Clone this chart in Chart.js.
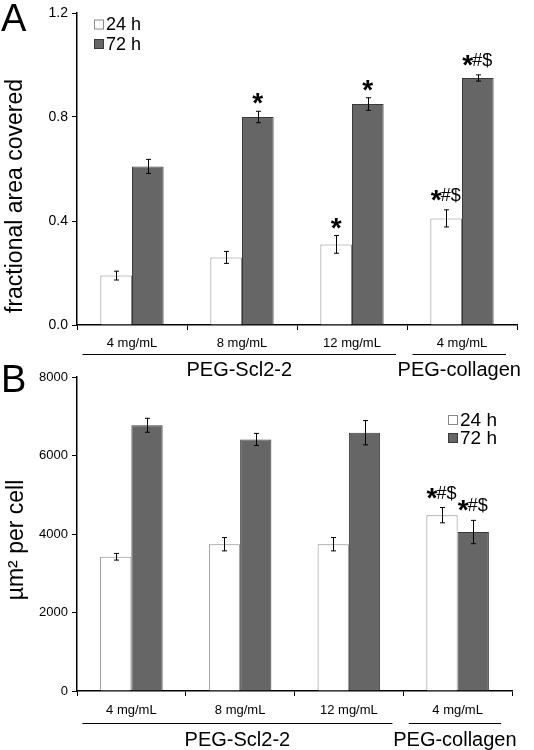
<!DOCTYPE html>
<html>
<head>
<meta charset="utf-8">
<script src="https://cdn.jsdelivr.net/npm/chart.js@4.4.1/dist/chart.umd.min.js"></script>
<style>
    html, body { margin: 0; padding: 0; background: #fff; }
    #wrap { position: relative; width: 534px; height: 750px; }
    #chartA { position: absolute; left: 0; top: 0; }
    #chartB { position: absolute; left: 0; top: 360px; }
</style>
</head>
<body>
<div id="wrap">
    <canvas id="chartA" width="534" height="385"></canvas>
    <canvas id="chartB" width="534" height="390"></canvas>
</div>
<script>
// categories (x axis) and the two groups under them
const categories = ['4 mg/mL', '8 mg/mL', '12 mg/mL', '4 mg/mL'];
const groupNames = ['PEG-Scl2-2', 'PEG-collagen'];
const groupStart = [0, 3];
const groupEnd = [2, 3];
const seriesLabels = ['24 h', '72 h'];

// panel A - fractional area covered
const areaTicks = [0, 0.4, 0.8, 1.2];
const area24 = [0.19, 0.26, 0.31, 0.41];
const area24Err = [0.017, 0.023, 0.034, 0.033];
const area72 = [0.61, 0.80, 0.85, 0.95];
const area72Err = [0.027, 0.022, 0.024, 0.012];
const area24Marks = ['', '', '*', '*#$'];
const area72Marks = ['', '*', '*', '*#$'];

// panel B - um2 per cell
const cellTicks = [0, 2000, 4000, 6000, 8000];
const cell24 = [3420, 3740, 3740, 4480];
const cell24Err = [85, 170, 170, 195];
const cell72 = [6770, 6410, 6580, 4050];
const cell72Err = [178, 153, 310, 297];
const cell24Marks = ['', '', '', '*#$'];
const cell72Marks = ['', '', '', '*#$'];

const FONT = "'Liberation Sans', Arial, sans-serif";
const colors = {
    white: '#ffffff',
    whiteBorder: '#8a8a8a',
    dark: '#666666',
    darkBorder: '#3a3a3a',
    ink: '#000000'
};

// error bars, significance marks, group lines, legend, titles
const decorPlugin = {
    id: 'decor',
    afterDatasetsDraw(chart, args, opts) {
        const ctx = chart.ctx;
        const y = chart.scales.y;
        const x = chart.scales.x;
        ctx.save();
        ctx.strokeStyle = colors.ink;
        ctx.fillStyle = colors.ink;
        ctx.lineWidth = 1;

        chart.data.datasets.forEach((ds, di) => {
            const meta = chart.getDatasetMeta(di);
            meta.data.forEach((bar, i) => {
                const v = ds.data[i];
                const e = ds.errors[i];
                const top = y.getPixelForValue(v + e);
                const bot = y.getPixelForValue(v - e);
                const cx = Math.round(bar.x) + 0.5;
                ctx.beginPath();
                ctx.moveTo(cx, top);
                ctx.lineTo(cx, bot);
                ctx.moveTo(cx - 2.5, top);
                ctx.lineTo(cx + 2.5, top);
                ctx.moveTo(cx - 2.5, bot);
                ctx.lineTo(cx + 2.5, bot);
                ctx.stroke();

                const mark = ds.marks[i];
                if (mark) {
                    const rest = mark.slice(1);
                    ctx.font = 'bold 28px ' + FONT;
                    const wStar = ctx.measureText('*').width;
                    ctx.font = opts.markFont + 'px ' + FONT;
                    const wRest = ctx.measureText(rest).width;
                    const sx = bar.x - (wStar + wRest) / 2;
                    ctx.textAlign = 'left';
                    ctx.textBaseline = 'alphabetic';
                    ctx.font = 'bold 28px ' + FONT;
                    ctx.fillText('*', sx, rest ? top - 1 : top + 1);
                    if (rest) {
                        ctx.font = opts.markFont + 'px ' + FONT;
                        ctx.fillText(rest, sx + wStar - 1, top - 9);
                    }
                }
            });
        });

        // group lines and names
        const cw = x.getPixelForValue(1) - x.getPixelForValue(0);
        ctx.textAlign = 'center';
        ctx.textBaseline = 'middle';
        ctx.font = '20px ' + FONT;
        groupNames.forEach((name, g) => {
            const x0 = x.getPixelForValue(groupStart[g]) - cw * 0.45;
            const x1 = x.getPixelForValue(groupEnd[g]) + cw * 0.4;
            ctx.beginPath();
            ctx.moveTo(x0, opts.lineY + 0.5);
            ctx.lineTo(x1, opts.lineY + 0.5);
            ctx.stroke();
            ctx.fillText(name, (x0 + x1) / 2, opts.nameY);
        });

        // legend
        ctx.textAlign = 'left';
        ctx.font = opts.legendFont + 'px ' + FONT;
        chart.data.datasets.forEach((ds, di) => {
            const ly = opts.legendY + di * opts.legendStep;
            ctx.fillStyle = ds.backgroundColor;
            ctx.fillRect(opts.legendX + 0.5, ly - 4.5, 9, 9);
            ctx.strokeStyle = ds.borderColor;
            ctx.strokeRect(opts.legendX + 0.5, ly - 4.5, 9, 9);
            ctx.fillStyle = colors.ink;
            ctx.fillText(ds.label, opts.legendX + 12, ly + 1);
        });

        // panel letter
        ctx.font = '38px ' + FONT;
        ctx.textBaseline = 'alphabetic';
        ctx.fillText(opts.letter, 1, opts.letterY);

        // y title
        ctx.save();
        ctx.translate(opts.titleX, opts.titleY);
        ctx.rotate(-Math.PI / 2);
        ctx.textAlign = 'center';
        ctx.textBaseline = 'middle';
        ctx.font = '23px ' + FONT;
        ctx.fillText(opts.yTitle, 0, 0);
        ctx.restore();

        ctx.restore();
    }
};

function makeChart(id, cfg) {
    return new Chart(document.getElementById(id), {
        type: 'bar',
        data: {
            labels: categories,
            datasets: [{
                label: seriesLabels[0],
                data: cfg.v24,
                errors: cfg.e24,
                marks: cfg.m24,
                backgroundColor: colors.white,
                borderColor: colors.whiteBorder,
                borderWidth: 1
            }, {
                label: seriesLabels[1],
                data: cfg.v72,
                errors: cfg.e72,
                marks: cfg.m72,
                backgroundColor: colors.dark,
                borderColor: colors.darkBorder,
                borderWidth: 1
            }]
        },
        options: {
            responsive: false,
            animation: false,
            events: [],
            datasets: {
                bar: { categoryPercentage: 0.575, barPercentage: 1.0 }
            },
            layout: { padding: { left: 0, top: cfg.padTop, right: cfg.padRight, bottom: 0 } },
            plugins: {
                legend: { display: false },
                tooltip: { enabled: false },
                decor: cfg.decor
            },
            scales: {
                x: {
                    afterFit: (s) => { s.height = cfg.xHeight; },
                    grid: {
                        offset: true,
                        drawOnChartArea: false,
                        tickLength: 5,
                        color: colors.ink
                    },
                    border: { display: true, color: colors.ink, width: 1.5 },
                    ticks: {
                        color: colors.ink,
                        padding: cfg.xPad,
                        maxRotation: 0,
                        font: { family: FONT, size: 13 }
                    }
                },
                y: {
                    min: cfg.ticks[0],
                    max: cfg.ticks[cfg.ticks.length - 1],
                    afterFit: (s) => { s.width = 77; },
                    afterBuildTicks: (s) => { s.ticks = cfg.ticks.map(v => ({ value: v })); },
                    grid: {
                        drawOnChartArea: false,
                        tickLength: 5,
                        color: colors.ink
                    },
                    border: { display: true, color: colors.ink, width: 1.5 },
                    ticks: {
                        color: colors.ink,
                        padding: 4,
                        font: { family: FONT, size: cfg.yFont },
                        callback: cfg.fmt
                    }
                }
            }
        },
        plugins: [decorPlugin]
    });
}

makeChart('chartA', {
    v24: area24, e24: area24Err, m24: area24Marks,
    v72: area72, e72: area72Err, m72: area72Marks,
    ticks: areaTicks,
    fmt: (v) => Number(v).toFixed(1),
    yFont: 14,
    padTop: 13, padRight: 17, xHeight: 60, xPad: 6,
    decor: {
        letter: 'A', letterY: 31,
        yTitle: 'fractional area covered', titleX: 16, titleY: 196,
        legendX: 94, legendY: 24.5, legendStep: 19.5, legendFont: 18,
        lineY: 354, nameY: 370,
        markFont: 18
    }
});

makeChart('chartB', {
    v24: cell24, e24: cell24Err, m24: cell24Marks,
    v72: cell72, e72: cell72Err, m72: cell72Marks,
    ticks: cellTicks,
    fmt: (v) => String(v),
    yFont: 13,
    padTop: 17, padRight: 22, xHeight: 59, xPad: 7,
    decor: {
        letter: 'B', letterY: 32,
        yTitle: 'µm² per cell', titleX: 17, titleY: 180,
        legendX: 448, legendY: 60, legendStep: 18, legendFont: 19,
        lineY: 363, nameY: 380,
        markFont: 18
    }
});
</script>
</body>
</html>
